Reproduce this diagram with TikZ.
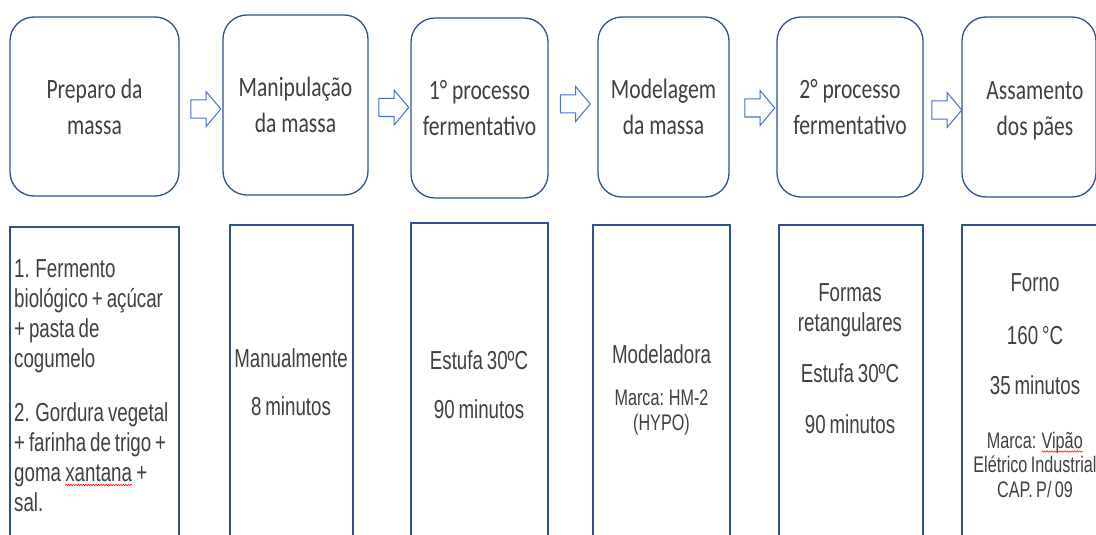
\documentclass[tikz,border=0pt]{standalone}
\usepackage{fontspec}
\usetikzlibrary{shapes.arrows,decorations.pathmorphing}
\newfontfamily\topfont[FakeStretch=0.77]{Carlito}
\newfontfamily\botfont[FakeStretch=0.72,WordSpace=0.75]{Liberation Sans}
\definecolor{boxblue}{HTML}{2F528F}
\definecolor{arrowblue}{HTML}{4472C4}
\definecolor{textgray}{HTML}{404040}
\newcommand\redwave[1]{\tikz[baseline=(rw.base)]{\node[inner sep=0pt, text=textgray] (rw) {#1};%
  \draw[red, line width=0.5pt, decorate, decoration={snake, amplitude=0.8pt, segment length=2.5pt}]
  ([yshift=-3.5pt]rw.base west) -- ([yshift=-3.5pt]rw.base east);}}
\tikzset{
  toptext/.style={text=textgray, font=\topfont\fontsize{28}{36}\selectfont, align=center, inner sep=0pt},
  topbox/.style={toptext, draw=boxblue, line width=1.3pt, rounded corners=24pt, fill=white},
  blockarrow/.style={single arrow, draw=arrowblue, line width=1pt, fill=white,
    minimum height=30pt, inner xsep=0pt, inner ysep=8.5pt, single arrow head extend=8.5pt,
    single arrow tip angle=100},
  botbox/.style={draw=boxblue, line width=1.3pt, inner sep=0pt},
  bottext/.style={text=textgray, font=\botfont\fontsize{26}{30}\selectfont, inner sep=0pt, anchor=north},
  smalltext/.style={text=textgray, font=\botfont\fontsize{22.5}{24.5}\selectfont, inner sep=0pt, anchor=north, align=center}
}
\begin{document}
\begin{tikzpicture}[x=1pt,y=-1pt]
\useasboundingbox (0,0) rectangle (1096,535);
\clip (0,0) rectangle (1096,535);
% top process boxes
\node[topbox, minimum width=169pt, minimum height=179pt] (t1) at (94.5,106.5) {Preparo da\\massa};
\node[topbox, minimum width=145pt, minimum height=180pt] (t2) at (295.5,105) {Manipulação\\da massa};
\node[topbox, minimum width=137pt, minimum height=180pt] (t3) at (479.5,108) {1° processo\\fermentativo};
\node[topbox, minimum width=131pt, minimum height=180pt] (t4) at (663.5,107) {Modelagem\\da massa};
\node[topbox, minimum width=146pt, minimum height=180pt] (t5) at (850,107) {2° processo\\fermentativo};
\node[topbox, minimum width=134pt, minimum height=180pt] (t6) at (1029,107) {};
\node[toptext] (t6l) at (1035,111) {Assamento\\dos pães};
% block arrows
\node[blockarrow] (a1) at (202,109) {};
\node[blockarrow] (a2) at (390,107.5) {};
\node[blockarrow] (a3) at (571.5,104) {};
\node[blockarrow] (a4) at (756,108) {};
\node[blockarrow] (a5) at (943,110) {};
% bottom detail boxes (open at the bottom of the picture)
\node[botbox, minimum width=169pt, minimum height=393pt] (b1) at (94.5,423.5) {};
\node[botbox, minimum width=123pt, minimum height=395pt] (b2) at (291.5,422.5) {};
\node[botbox, minimum width=137pt, minimum height=397pt] (b3) at (479.5,421.5) {};
\node[botbox, minimum width=137pt, minimum height=395pt] (b4) at (661.5,422.5) {};
\node[botbox, minimum width=144pt, minimum height=395pt] (b5) at (851,422.5) {};
\node[botbox, minimum width=158pt, minimum height=395pt] (b6) at (1041,422.5) {};
% texts of the detail boxes
\node[bottext, anchor=north west, align=left] (l1) at (14,259.4)
  {1. Fermento\\biológico + açúcar\\+ pasta de\\cogumelo\\[24pt]2. Gordura vegetal\\+ farinha de trigo +\\goma \redwave{xantana} +\\sal.};
\node[bottext, align=center] (l2) at (291,348.4) {Manualmente\\[18pt]8 minutos};
\node[bottext, align=center] (l3) at (479,350.4) {Estufa 30ºC\\[19pt]90 minutos};
\node[bottext, align=center] (l4a) at (661.5,344.4) {Modeladora};
\node[smalltext] (l4b) at (661.5,389.9) {Marca: HM-2\\(HYPO)};
\node[bottext, align=center] (l5) at (850,283.4) {Formas\\retangulares\\[21pt]Estufa 30ºC\\[21pt]90 minutos};
\node[bottext, align=center] (l6a) at (1035,273.4) {Forno\\[23pt]160 °C\\[20pt]35 minutos};
\node[smalltext] (l6b) at (1035,431.5) {Marca: \redwave{Vipão}\\Elétrico Industrial\\CAP. P/ 09};
\end{tikzpicture}
\end{document}
